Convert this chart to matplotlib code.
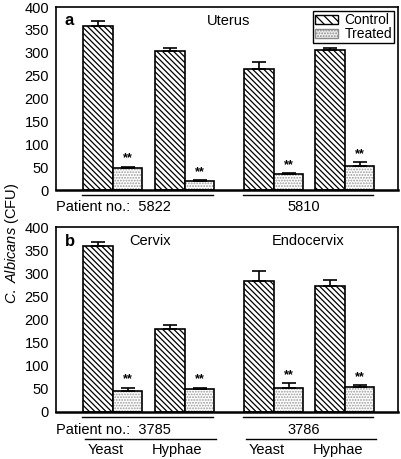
import numpy as np
import matplotlib
matplotlib.use("Agg")
import matplotlib.pyplot as plt
from matplotlib.patches import Patch

plt.rcParams['font.family'] = ['Liberation Sans', 'DejaVu Sans']
plt.rcParams['mathtext.fontset'] = 'custom'
plt.rcParams['mathtext.rm'] = 'Liberation Sans'
plt.rcParams['mathtext.it'] = 'Liberation Sans:italic'
plt.rcParams['hatch.linewidth'] = 0.9

# panel a (uterus), two patients
a_control = [358, 304, 264, 306]
a_control_err = [11, 7, 16, 5]
a_treated = [48, 20, 36, 52]
a_treated_err = [3, 1, 1, 9]

# panel b (cervix / endocervix), yeast and hyphae
b_control = [359, 180, 283, 272]
b_control_err = [9, 8, 22, 13]
b_treated = [45, 50, 52, 55]
b_treated_err = [8, 3, 10, 3]

patients_a = ['5822', '5810']
patients_b = ['3785', '3786']
forms = ['Yeast', 'Hyphae', 'Yeast', 'Hyphae']
yticks = [0, 50, 100, 150, 200, 250, 300, 350, 400]

# group centres in bar-width units
centers = np.array([1.93, 4.37, 7.39, 9.8])
w = 1.0
xmax = 11.6
FS = 10.5

LINES = '\\' * 6
DOTS = '.' * 6

fig = plt.figure(figsize=(4.01, 4.59), dpi=100)
ax_a = fig.add_axes([0.1397, 0.586, 0.8529, 0.3987])
ax_b = fig.add_axes([0.1397, 0.1024, 0.8529, 0.4024])


def draw_panel(ax, ctrl, ctrl_err, trt, trt_err):
    ax.bar(centers - w / 2, ctrl, w, color='white', edgecolor='black',
           hatch=LINES, linewidth=1.2, zorder=2)
    # dotted fill in gray, outline in black on top
    ax.bar(centers + w / 2, trt, w, color='white', edgecolor='#9a9a9a',
           hatch=DOTS, linewidth=0, zorder=2)
    ax.bar(centers + w / 2, trt, w, color='none', edgecolor='black',
           linewidth=1.2, zorder=2)
    # error bars, upper side only
    ax.errorbar(centers - w / 2, ctrl, yerr=[np.zeros(4), ctrl_err], fmt='none',
                ecolor='black', elinewidth=1.2, capsize=5, capthick=1.2, zorder=3)
    ax.errorbar(centers + w / 2, trt, yerr=[np.zeros(4), trt_err], fmt='none',
                ecolor='black', elinewidth=1.2, capsize=5, capthick=1.2, zorder=3)
    for x, v, e in zip(centers + w / 2, trt, trt_err):
        ax.text(x, v + e + 5, '**', ha='center', va='bottom', fontsize=9,
                fontweight='bold')
    ax.set_xlim(0, xmax)
    ax.set_ylim(0, 400)
    ax.set_xticks([])
    ax.set_yticks(yticks)
    ax.set_yticklabels([str(t) for t in yticks], fontsize=FS)
    ax.tick_params(axis='y', length=0, pad=5)
    for s in ['top', 'right', 'left']:
        ax.spines[s].set_linewidth(1.2)
    ax.spines['bottom'].set_linewidth(1.8)


draw_panel(ax_a, a_control, a_control_err, a_treated, a_treated_err)
draw_panel(ax_b, b_control, b_control_err, b_treated, b_treated_err)

# patient lines and labels under each panel
def under_line(ax, x0, x1, y):
    ax.plot([x0, x1], [y, y], color='black', lw=1.0, clip_on=False,
            transform=ax.get_xaxis_transform())

for ax, pats in [(ax_a, patients_a), (ax_b, patients_b)]:
    under_line(ax, centers[0] - 1.05, centers[1] + 0.95, -0.027)
    under_line(ax, centers[2] - 1.05, centers[3] + 0.95, -0.027)
    ax.text(0.0, -0.095, 'Patient no.:  ' + pats[0], transform=ax.transAxes,
            ha='left', va='center', fontsize=FS)
    ax.text((centers[2] + centers[3]) / 2 - 0.2, -0.095, pats[1],
            transform=ax.get_xaxis_transform(), ha='center', va='center', fontsize=FS)

under_line(ax_b, centers[0] - 0.95, centers[1] + 1.05, -0.147)
under_line(ax_b, centers[2] - 0.95, centers[3] + 1.05, -0.147)
for x, f in zip(centers, forms):
    ax_b.text(x - 0.25, -0.205, f, transform=ax_b.get_xaxis_transform(),
              ha='center', va='center', fontsize=FS)

# panel letters and tissue names
ax_a.text(0.025, 0.925, 'a', transform=ax_a.transAxes, fontsize=12,
          fontweight='bold', ha='left', va='center')
ax_a.text(0.44, 0.925, 'Uterus', transform=ax_a.transAxes, fontsize=FS,
          ha='left', va='center')
ax_b.text(0.025, 0.925, 'b', transform=ax_b.transAxes, fontsize=12,
          fontweight='bold', ha='left', va='center')
ax_b.text(0.215, 0.925, 'Cervix', transform=ax_b.transAxes, fontsize=FS,
          ha='left', va='center')
ax_b.text(0.738, 0.925, 'Endocervix', transform=ax_b.transAxes, fontsize=FS,
          ha='center', va='center')

handles = [Patch(facecolor='white', edgecolor='black', hatch='\\' * 4, lw=1.0),
           Patch(facecolor='#f0f0f0', edgecolor='#8a8a8a', hatch=DOTS, lw=1.0)]
leg = ax_a.legend(handles, ['Control', 'Treated'], loc='upper right',
                  bbox_to_anchor=(0.993, 0.985), fontsize=10, frameon=True,
                  fancybox=False, edgecolor='black', framealpha=1,
                  handlelength=1.6, handleheight=0.55, handletextpad=0.5,
                  borderpad=0.15, labelspacing=0.0, borderaxespad=0.1)
leg.get_frame().set_linewidth(1.0)

fig.text(0.03, 0.47, r'$\it{C.\ Albicans}$ (CFU)', rotation=90, ha='center',
         va='center', fontsize=FS)

fig.savefig('out.png', dpi=100)
